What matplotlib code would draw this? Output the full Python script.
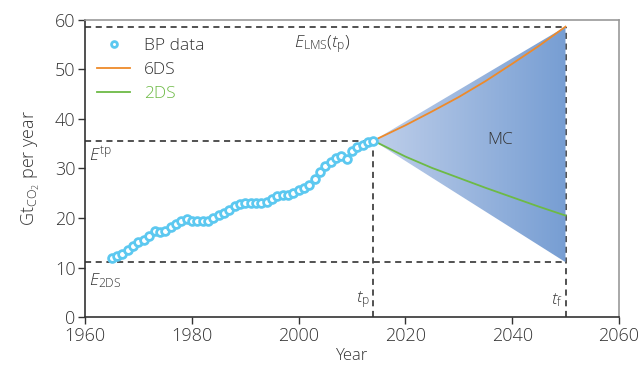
import numpy as np
import matplotlib
matplotlib.use("Agg")
import matplotlib.pyplot as plt
from matplotlib.patches import Polygon
from matplotlib.colors import LinearSegmentedColormap

plt.rcParams['font.family'] = ['Open Sans', 'DejaVu Sans']
plt.rcParams['font.weight'] = 'light'
plt.rcParams['axes.labelweight'] = 'light'
plt.rcParams['mathtext.fontset'] = 'custom'
plt.rcParams['mathtext.rm'] = 'Open Sans:light'
plt.rcParams['mathtext.it'] = 'Open Sans:italic:light'
plt.rcParams['mathtext.bf'] = 'Open Sans:bold'

# BP data
bp_years = list(range(1965, 2015))
bp_values = [11.9, 12.4, 12.8, 13.5, 14.3, 15.1, 15.6, 16.4, 17.3, 17.2,
             17.3, 18.2, 18.8, 19.3, 19.9, 19.5, 19.3, 19.3, 19.4, 20.1,
             20.6, 21.0, 21.7, 22.4, 22.8, 23.0, 23.1, 23.0, 23.1, 23.3,
             23.8, 24.4, 24.6, 24.6, 25.1, 25.7, 26.0, 26.7, 27.8, 29.3,
             30.4, 31.3, 32.1, 32.6, 32.0, 33.6, 34.3, 34.8, 35.3, 35.6]

# Scenarios
scen_years = [2014, 2020, 2025, 2030, 2035, 2040, 2045, 2050]
six_ds = [35.6, 38.7, 41.5, 44.4, 47.6, 51.1, 54.7, 58.6]
two_ds = [35.6, 32.4, 30.1, 28.1, 26.1, 24.2, 22.3, 20.5]

# Reference levels
t_p, t_f = 2014, 2050
E_lms = 58.6
E_tp = 35.6
E_2ds = 11.1

txt = '#333333'
fig = plt.figure(figsize=(6.4, 3.65), dpi=100)
ax = fig.add_axes([0.133, 0.131, 0.834, 0.815])
ax.set_xlim(1960, 2060)
ax.set_ylim(0, 60)

# MC fan with gradient
fan = Polygon([[t_p, E_tp], [t_f, E_lms], [t_f, E_2ds]], closed=True,
              facecolor='none', edgecolor='none')
ax.add_patch(fan)
cmap = LinearSegmentedColormap.from_list('fan', ['#BFCFEA', '#779ED3'])
grad = np.linspace(0, 1, 256).reshape(1, -1)
im = ax.imshow(grad, extent=[t_p, t_f, E_2ds, E_lms], aspect='auto',
               cmap=cmap, origin='lower', zorder=2)
im.set_clip_path(fan)

dash = dict(color='#222222', lw=1.1, ls=(0, (4, 3)), zorder=1)
ax.plot([1960, t_f], [E_lms, E_lms], **dash)
ax.plot([1960, t_p], [E_tp, E_tp], **dash)
ax.plot([1960, t_f], [E_2ds, E_2ds], **dash)
ax.plot([t_p, t_p], [0, E_tp], **dash)
ax.plot([t_f, t_f], [0, E_lms], **dash)

ax.plot(bp_years, bp_values, 'o', mfc='white', mec='#5CC8F0', mew=2.0,
        ms=5.6, ls='none', label='BP data', zorder=4)
ax.plot(scen_years, six_ds, color='#EE8A2A', lw=1.3, label='6DS', zorder=3)
ax.plot(scen_years, two_ds, color='#6DBA45', lw=1.3, label='2DS', zorder=3)

leg = ax.legend(loc='upper left', frameon=False, fontsize=12.5, handlelength=1.9,
                borderaxespad=0.3, labelspacing=0.45, handletextpad=0.8,
                bbox_to_anchor=(0.0, 0.98), markerscale=0.75,
                prop={'weight': 'light', 'size': 12.5})
for t, c in zip(leg.get_texts(), [txt, txt, '#6DBA45']):
    t.set_color(c)

fs = 12.5
ax.text(2004.4, 55.0, r'$\mathit{E}_{\mathrm{LMS}}(\mathit{t}_{\mathrm{p}})$',
        color=txt, fontsize=fs, ha='center', va='center')
ax.text(1960.8, 32.6, r'$\mathit{E}^{\mathrm{tp}}$', color=txt, fontsize=fs,
        ha='left', va='center')
ax.text(1960.8, 7.4, r'$\mathit{E}_{\mathrm{2DS}}$', color=txt, fontsize=fs,
        ha='left', va='center')
ax.text(2037.8, 35.7, 'MC', color=txt, fontsize=fs, ha='center', va='center',
        fontweight='light')
ax.text(2013.3, 3.5, r'$\mathit{t}_{\mathrm{p}}$', color=txt, fontsize=fs,
        ha='right', va='center')
ax.text(2049.4, 3.5, r'$\mathit{t}_{\mathrm{f}}$', color=txt, fontsize=fs,
        ha='right', va='center')

ax.set_xticks([1960, 1980, 2000, 2020, 2040, 2060])
ax.set_yticks([0, 10, 20, 30, 40, 50, 60])
ax.tick_params(direction='out', length=5, width=1, colors=txt, labelsize=13,
               pad=2)
ax.set_xlabel('Year', color=txt, fontsize=12, labelpad=2, fontweight='light')
ax.set_ylabel(r'Gt$_{\mathrm{CO_2}}$ per year', color=txt, fontsize=13,
              labelpad=9, fontweight='light')
for s in ['left', 'bottom']:
    ax.spines[s].set_color('#333333')
    ax.spines[s].set_linewidth(1.2)
for s in ['top', 'right']:
    ax.spines[s].set_color('#999999')
    ax.spines[s].set_linewidth(1.2)

fig.savefig('out.png', dpi=100)
